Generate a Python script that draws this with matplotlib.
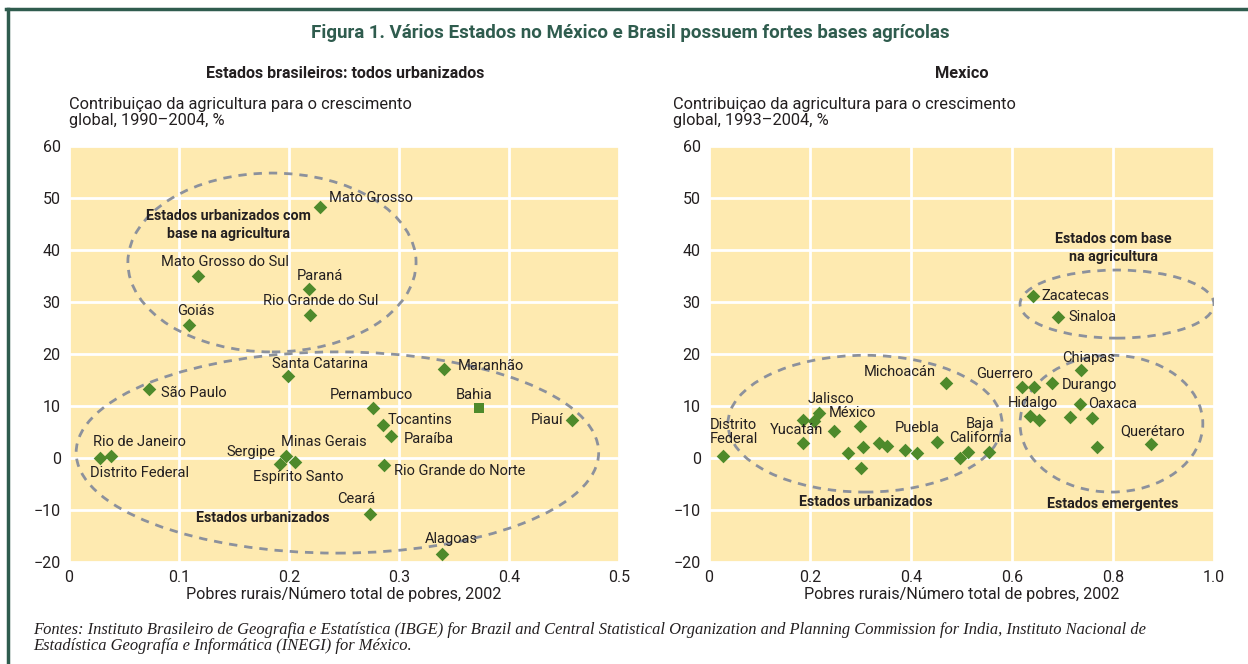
import matplotlib
matplotlib.use("Agg")
import matplotlib.pyplot as plt
from matplotlib.patches import Ellipse
from matplotlib.lines import Line2D

plt.rcParams['font.family'] = ['Roboto', 'DejaVu Sans']

# Brasil: pobres rurais / total de pobres (x) e contribuicao da agricultura (y)
br_states = ["Mato Grosso", "Mato Grosso do Sul", "Paraná", "Rio Grande do Sul", "Goiás",
             "Santa Catarina", "São Paulo", "Maranhão", "Pernambuco", "Tocantins",
             "Paraíba", "Piauí", "Rio Grande do Norte", "Ceará", "Alagoas",
             "Rio de Janeiro", "Distrito Federal", "Minas Gerais", "Sergipe", "Espírito Santo"]
br_x = [0.228, 0.117, 0.218, 0.219, 0.109, 0.199, 0.073, 0.341, 0.276, 0.285,
        0.293, 0.457, 0.286, 0.274, 0.339, 0.038, 0.028, 0.197, 0.192, 0.205]
br_y = [48.3, 35.0, 32.5, 27.5, 25.6, 15.8, 13.3, 17.1, 9.6, 6.3,
        4.2, 7.3, -1.3, -10.8, -18.5, 0.4, 0.0, 0.4, -1.2, -0.8]
bahia_x = [0.373]
bahia_y = [9.6]

# Mexico: 32 estados
mx_x = [0.028, 0.186, 0.186, 0.208, 0.218, 0.248, 0.299, 0.275, 0.305, 0.301,
        0.337, 0.352, 0.388, 0.412, 0.469, 0.451, 0.498, 0.512, 0.555, 0.642,
        0.691, 0.737, 0.620, 0.644, 0.679, 0.735, 0.636, 0.653, 0.715, 0.758,
        0.768, 0.875]
mx_y = [0.4, 7.3, 2.9, 7.1, 8.6, 5.2, 6.1, 0.9, 2.1, -2.0,
        2.9, 2.3, 1.5, 1.0, 14.4, 3.0, 0.0, 1.1, 1.1, 31.2,
        27.1, 16.9, 13.7, 13.7, 14.4, 10.4, 8.1, 7.3, 7.9, 7.7,
        2.1, 2.7]

BG = "#FEEAB0"
GREEN = "#4E8A2B"
DASH = "#8C919C"
TXT = "#231F20"
FRAME = "#2F5C4E"

fig = plt.figure(figsize=(12.48, 6.64), dpi=100)

# moldura
fig.add_artist(Line2D([0.005, 1.0], [0.9865, 0.9865], color=FRAME, lw=2.5, transform=fig.transFigure))
fig.add_artist(Line2D([0.0065, 0.0065], [0.0, 0.9865], color=FRAME, lw=2.5, transform=fig.transFigure))

fig.text(0.505, 0.951, "Figura 1. Vários Estados no México e Brasil possuem fortes bases agrícolas",
         ha="center", va="center", fontsize=13.5, fontweight="bold", color=FRAME)


def style_axes(ax, xmax):
    ax.set_facecolor(BG)
    for s in ax.spines.values():
        s.set_visible(False)
    ax.set_ylim(-20, 60)
    ax.set_xlim(0, xmax)
    ax.set_yticks(range(-20, 61, 10))
    ax.set_yticklabels(["\u221220", "\u221210", "0", "10", "20", "30", "40", "50", "60"])
    ax.grid(True, color="white", lw=2)
    ax.set_axisbelow(True)
    ax.tick_params(length=0, labelsize=11.5, colors=TXT, pad=6)
    ax.set_xlabel("Pobres rurais/Número total de pobres, 2002", fontsize=11.6, color=TXT, labelpad=1)


lab = dict(fontsize=10.5, color=TXT)
bold = dict(fontsize=10.3, color=TXT, fontweight="bold", ha="center", va="center")

# Painel esquerdo: Brasil
ax1 = fig.add_axes([0.0553, 0.1536, 0.4407, 0.6265])
style_axes(ax1, 0.5)
ax1.set_xticks([0, 0.1, 0.2, 0.3, 0.4, 0.5])
ax1.set_xticklabels(["0", "0.1", "0.2", "0.3", "0.4", "0.5"])
ax1.add_patch(Ellipse((0.1845, 37.6), 0.262, 34.4, fill=False, ec=DASH, lw=2, ls=(0, (3, 2.5))))
ax1.add_patch(Ellipse((0.244, 1.06), 0.475, 38.7, fill=False, ec=DASH, lw=2, ls=(0, (3, 2.5))))
ax1.scatter(br_x, br_y, marker="D", s=48, color=GREEN, zorder=3, linewidths=0)
ax1.scatter(bahia_x, bahia_y, marker="s", s=55, color=GREEN, zorder=3, linewidths=0)

br_lab = [("Mato Grosso", 0.236, 50.0, "left"), ("Mato Grosso do Sul", 0.142, 37.7, "center"),
          ("Paraná", 0.228, 35.0, "center"), ("Rio Grande do Sul", 0.229, 30.2, "center"),
          ("Goiás", 0.115, 28.3, "center"), ("Santa Catarina", 0.228, 18.1, "center"),
          ("São Paulo", 0.084, 12.5, "left"), ("Maranhão", 0.353, 17.7, "left"),
          ("Pernambuco", 0.275, 12.1, "center"), ("Bahia", 0.368, 12.1, "center"),
          ("Tocantins", 0.290, 7.3, "left"), ("Paraíba", 0.304, 3.7, "left"),
          ("Piauí", 0.449, 7.3, "right"), ("Rio Grande do Norte", 0.295, -2.5, "left"),
          ("Ceará", 0.261, -7.9, "center"), ("Alagoas", 0.348, -15.6, "center"),
          ("Rio de Janeiro", 0.064, 3.1, "center"), ("Distrito Federal", 0.064, -2.9, "center"),
          ("Sergipe", 0.188, 1.2, "right"), ("Minas Gerais", 0.193, 3.1, "left"),
          ("Espírito Santo", 0.208, -3.7, "center")]
for t, x, y, ha in br_lab:
    ax1.text(x, y, t, ha=ha, va="center", **lab)
ax1.text(0.145, 44.8, "Estados urbanizados com\nbase na agricultura", linespacing=1.3, **bold)
ax1.text(0.176, -11.5, "Estados urbanizados", **bold)

# Painel direito: Mexico
ax2 = fig.add_axes([0.5681, 0.1536, 0.4046, 0.6265])
style_axes(ax2, 1.0)
ax2.set_xticks([0, 0.2, 0.4, 0.6, 0.8, 1.0])
ax2.set_xticklabels(["0", "0.2", "0.4", "0.6", "0.8", "1.0"])
ax2.add_patch(Ellipse((0.309, 6.6), 0.543, 26.3, fill=False, ec=DASH, lw=2, ls=(0, (3, 2.5))))
ax2.add_patch(Ellipse((0.808, 29.6), 0.384, 13.1, fill=False, ec=DASH, lw=2, ls=(0, (3, 2.5))))
ax2.add_patch(Ellipse((0.797, 6.6), 0.362, 26.3, fill=False, ec=DASH, lw=2, ls=(0, (3, 2.5))))
ax2.scatter(mx_x, mx_y, marker="D", s=48, color=GREEN, zorder=3, linewidths=0)

mx_lab = [("Distrito\nFederal", 0.002, 5.0, "left"), ("Yucatán", 0.174, 5.4, "center"),
          ("Jalisco", 0.242, 11.3, "center"), ("México", 0.285, 8.7, "center"),
          ("Michoacán", 0.378, 16.5, "center"), ("Puebla", 0.412, 5.8, "center"),
          ("Baja\nCalifornia", 0.537, 5.2, "center"), ("Guerrero", 0.586, 16.2, "center"),
          ("Hidalgo", 0.641, 10.6, "center"), ("Zacatecas", 0.659, 31.2, "left"),
          ("Sinaloa", 0.711, 27.1, "left"), ("Chiapas", 0.752, 19.2, "center"),
          ("Durango", 0.699, 14.0, "left"), ("Oaxaca", 0.750, 10.4, "left"),
          ("Querétaro", 0.879, 5.2, "center")]
for t, x, y, ha in mx_lab:
    ax2.text(x, y, t, ha=ha, va="center", multialignment=ha, linespacing=1.05, **lab)
ax2.text(0.80, 40.4, "Estados com base\nna agricultura", linespacing=1.3, **bold)
ax2.text(0.311, -8.5, "Estados urbanizados", **bold)
ax2.text(0.80, -8.8, "Estados emergentes", **bold)

# titulos dos paineis e rotulos do eixo y
fig.text(0.2765, 0.889, "Estados brasileiros: todos urbanizados", ha="center", va="center",
         fontsize=11.5, fontweight="bold", color=TXT)
fig.text(0.771, 0.889, "Mexico", ha="center", va="center", fontsize=11.8, fontweight="bold", color=TXT)
fig.text(0.0553, 0.830, "Contribuiçao da agricultura para o crescimento\nglobal, 1990\u20132004, %",
         ha="left", va="center", fontsize=11.8, color=TXT, linespacing=1.1)
fig.text(0.5395, 0.830, "Contribuiçao da agricultura para o crescimento\nglobal, 1993\u20132004, %",
         ha="left", va="center", fontsize=11.8, color=TXT, linespacing=1.1)

fig.text(0.0265, 0.0385,
         "Fontes: Instituto Brasileiro de Geografia e Estatística (IBGE) for Brazil and Central Statistical "
         "Organization and Planning Commission for India, Instituto Nacional de\n"
         "Estadística Geografía e Informática (INEGI) for México.",
         ha="left", va="center", fontsize=11.9, style="italic", color=TXT,
         family=["Liberation Serif", "DejaVu Serif"], linespacing=1.0)

fig.savefig("out.png", dpi=100)
